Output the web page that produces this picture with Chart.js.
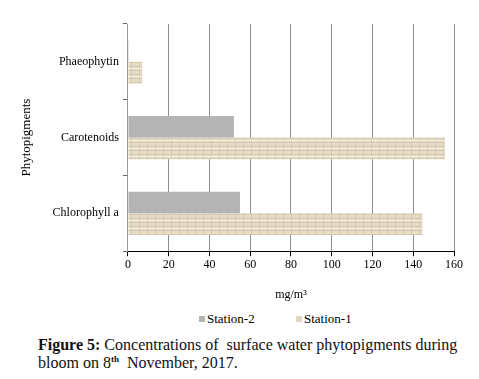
<!DOCTYPE html>
<html>
<head>
<meta charset="utf-8">
<script src="https://cdn.jsdelivr.net/npm/chart.js@4"></script>
<style>
  html, body { margin: 0; padding: 0; background: #fff; }
  #wrap { position: relative; width: 479px; height: 379px; }
  #legend {
    position: absolute; left: 0; top: 311px; width: 479px; height: 16px;
    font-family: "Liberation Serif", "DejaVu Serif", serif;
    font-size: 13px; line-height: 16px; color: #000;
  }
  #legend span.item { position: absolute; top: 0; white-space: nowrap; }
  #legend span.box { display: inline-block; width: 6px; height: 6px; margin-right: 2px; vertical-align: 1px; }
  #caption {
    position: absolute; left: 38px; top: 336px; width: 436px;
    font-family: "Liberation Serif", "DejaVu Serif", serif;
    font-size: 16px; line-height: 18px; color: #111;
  }
  #caption b { font-weight: bold; }
  #caption sup { font-size: 9px; font-weight: bold; vertical-align: 6px; line-height: 0; }
</style>
</head>
<body>
<div id="wrap">
  <canvas id="chart" width="479" height="306"></canvas>
  <div id="legend"></div>
  <div id="caption"><b>Figure 5:</b> Concentrations of&nbsp; surface water phytopigments during bloom on 8<sup>th</sup>&nbsp; November, 2017.</div>
</div>
<script>
// Daten
const pigments = ['Phaeophytin', 'Carotenoids', 'Chlorophyll a'];
const station2 = [0.4, 52, 55];
const station1 = [7, 155.5, 144.5];
const xTicks = [0, 20, 40, 60, 80, 100, 120, 140, 160];

document.addEventListener('DOMContentLoaded', () => {
  const canvas = document.getElementById('chart');
  const ctx = canvas.getContext('2d');

  // Beige Stofftextur für Station-1
  const pc = document.createElement('canvas');
  pc.width = 16; pc.height = 8;
  const p = pc.getContext('2d');
  p.fillStyle = '#e7ddc8';
  p.fillRect(0, 0, 16, 8);
  p.fillStyle = '#d6c9ae';
  p.fillRect(0, 2, 16, 1);
  p.fillRect(0, 6, 16, 1);
  p.fillRect(3, 0, 1, 8);
  p.fillRect(11, 0, 1, 8);
  p.fillStyle = '#f1ebdf';
  p.fillRect(0, 4, 16, 1);
  const texture = ctx.createPattern(pc, 'repeat');

  const serif = '"Liberation Serif", "DejaVu Serif", serif';

  const chart = new Chart(ctx, {
    type: 'bar',
    data: {
      labels: pigments,
      datasets: [
        {
          label: 'Station-2',
          data: station2,
          backgroundColor: '#b4b4b4',
          barPercentage: 1,
          categoryPercentage: 0.57
        },
        {
          label: 'Station-1',
          data: station1,
          backgroundColor: texture,
          barPercentage: 1,
          categoryPercentage: 0.57
        }
      ]
    },
    options: {
      indexAxis: 'y',
      responsive: false,
      animation: false,
      layout: { padding: { top: 24, right: 25, left: 15, bottom: 0 } },
      scales: {
        x: {
          min: 0,
          max: 160,
          afterBuildTicks: axis => { axis.ticks = xTicks.map(v => ({ value: v })); },
          grid: { color: '#8f8f8f', tickColor: '#000', tickLength: 5 },
          border: { color: '#000' },
          ticks: { color: '#000', font: { family: serif, size: 12 }, padding: 1 },
          title: {
            display: true,
            text: 'mg/m³',
            color: '#000',
            font: { family: serif, size: 12 },
            padding: { top: 15, bottom: 4 }
          }
        },
        y: {
          grid: { drawOnChartArea: false, color: '#666', tickLength: 5 },
          border: { color: '#999' },
          ticks: { color: '#000', font: { family: serif, size: 12 }, padding: 4 },
          title: {
            display: true,
            text: 'Phytopigments',
            color: '#000',
            font: { family: serif, size: 13 },
            padding: { bottom: 14 }
          }
        }
      },
      plugins: {
        legend: { display: false },
        tooltip: { enabled: false }
      }
    }
  });

  // Legende als HTML (breiter Abstand wie im Original)
  const legend = document.getElementById('legend');
  const legendX = [199, 296];
  chart.data.datasets.forEach((ds, i) => {
    const item = document.createElement('span');
    item.className = 'item';
    item.style.left = legendX[i] + 'px';
    const box = document.createElement('span');
    box.className = 'box';
    box.style.background = i === 0 ? '#b4b4b4' : '#e2d8c2';
    item.appendChild(box);
    item.appendChild(document.createTextNode(ds.label));
    legend.appendChild(item);
  });
});
</script>
</body>
</html>
